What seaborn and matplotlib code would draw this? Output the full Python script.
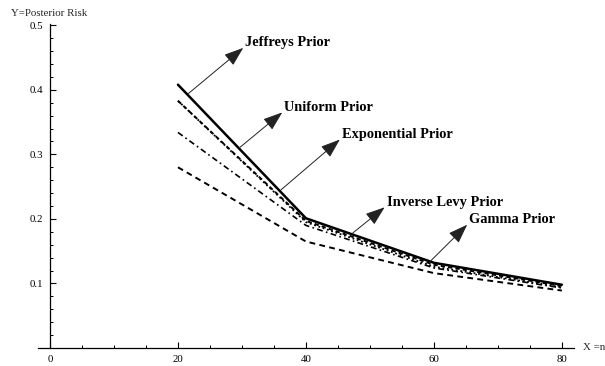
import matplotlib
matplotlib.use("Agg")
import matplotlib.pyplot as plt
import seaborn as sns
import pandas as pd
from matplotlib.ticker import MultipleLocator

sns.set_theme(style="white")
plt.rcParams['font.family'] = ['Liberation Serif', 'DejaVu Serif']

n_values = [20, 40, 60, 80]
jeffreys = [0.408, 0.201, 0.132, 0.098]
uniform = [0.383, 0.197, 0.129, 0.096]
exponential = [0.334, 0.190, 0.124, 0.093]
inverse_levy = [0.383, 0.195, 0.126, 0.094]
gamma = [0.280, 0.165, 0.116, 0.089]

priors = ["Jeffreys Prior", "Uniform Prior", "Exponential Prior",
          "Inverse Levy Prior", "Gamma Prior"]
series = [jeffreys, uniform, exponential, inverse_levy, gamma]

# annotation: (arrow start on curve, arrow tip / label position)
ann_start = [(21.6, 0.394), (29.7, 0.311), (36.1, 0.245), (47.3, 0.178), (59.4, 0.134)]
ann_tip = [(30.2, 0.465), (36.3, 0.365), (45.3, 0.323), (52.3, 0.218), (65.2, 0.191)]

xticks = [0, 20, 40, 60, 80]
yticks = [0.1, 0.2, 0.3, 0.4, 0.5]

rows = []
for name, vals in zip(priors, series):
    for n, v in zip(n_values, vals):
        rows.append({"n": n, "risk": v, "prior": name})
df = pd.DataFrame(rows)

fig = plt.figure(figsize=(6.05, 3.66), dpi=100)
ax = fig.add_axes([0.0628, 0.0492, 0.886, 0.8852])

styles = {
    "Jeffreys Prior": dict(ls="-", lw=1.8),
    "Uniform Prior": dict(ls=(0, (2.2, 1.6)), lw=1.4),
    "Exponential Prior": dict(ls=(0, (3.5, 2, 1, 2)), lw=1.2),
    "Inverse Levy Prior": dict(ls=(0, (1, 1.5)), lw=1.3),
    "Gamma Prior": dict(ls=(0, (3, 2.2)), lw=1.4),
}
for name in priors:
    sub = df[df["prior"] == name]
    st = styles[name]
    sns.lineplot(data=sub, x="n", y="risk", ax=ax, color="black",
                 linewidth=st["lw"], linestyle=st["ls"], legend=False)

for name, s, t in zip(priors, ann_start, ann_tip):
    ax.annotate("", xy=t, xytext=s,
                arrowprops=dict(arrowstyle="-|>,head_length=1.0,head_width=0.36",
                                color="#222222", lw=0.7, shrinkA=0, shrinkB=0))
    ax.text(t[0] + 0.3, t[1] + 0.008, name, fontsize=10.4, fontweight="bold",
            ha="left", va="center", color="black")

ax.set_xlim(-1.875, 81.9)
ax.set_ylim(0, 0.502)
ax.spines["left"].set_position(("data", 0))
ax.spines["bottom"].set_position(("data", 0))
ax.spines["top"].set_visible(False)
ax.spines["right"].set_visible(False)
for sp in ("left", "bottom"):
    ax.spines[sp].set_color("black")
    ax.spines[sp].set_linewidth(0.9)

ax.set_xticks(xticks)
ax.set_xticklabels([str(v) for v in xticks])
ax.set_yticks(yticks)
ax.set_yticklabels([f"{v:.1f}" for v in yticks])
ax.xaxis.set_minor_locator(MultipleLocator(5))
ax.yaxis.set_minor_locator(MultipleLocator(0.02))
ax.tick_params(which="major", direction="in", length=4, width=0.8, color="black",
               labelsize=7.8, labelcolor="black", pad=5)
ax.tick_params(which="minor", direction="in", length=2.2, width=0.7, color="black")
ax.tick_params(axis="x", bottom=True, which="both")
ax.tick_params(axis="y", left=True, which="both")
ax.set_xlabel("")
ax.set_ylabel("")
ax.grid(False)

fig.text(11 / 605, 1 - 13 / 366, "Y=Posterior Risk", fontsize=7.8, ha="left", va="center")
fig.text(583 / 605, 1 - 348 / 366, "X =n", fontsize=7.8, ha="left", va="center")

fig.savefig("out.png", dpi=100, facecolor="white")
